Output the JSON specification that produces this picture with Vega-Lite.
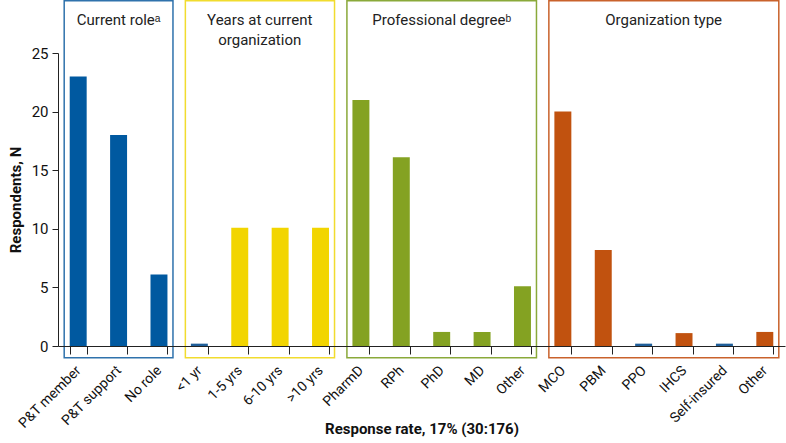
{
  "$schema": "https://vega.github.io/schema/vega-lite/v6.json",
  "width": 727,
  "height": 293,
  "autosize": {"type": "none"},
  "padding": {"left": 58, "top": 53, "right": 1, "bottom": 97},
  "background": "white",
  "config": {
    "view": {"stroke": null},
    "font": "Roboto, sans-serif",
    "axis": {"labelFont": "Roboto, sans-serif", "titleFont": "Roboto, sans-serif", "labelColor": "#111", "titleColor": "#111", "domainColor": "#222", "tickColor": "#222"}
  },
  "datasets": {
    "bars": [
      {"key": "P&T member", "n": 23, "fill": "role"},
      {"key": "P&T support", "n": 18, "fill": "role"},
      {"key": "No role", "n": 6.1, "fill": "role"},
      {"key": "<1 yr", "n": 0.2, "fill": "zero"},
      {"key": "1-5 yrs", "n": 10.1, "fill": "years"},
      {"key": "6-10 yrs", "n": 10.1, "fill": "years"},
      {"key": ">10 yrs", "n": 10.1, "fill": "years"},
      {"key": "PharmD", "n": 21, "fill": "degree"},
      {"key": "RPh", "n": 16.1, "fill": "degree"},
      {"key": "PhD", "n": 1.2, "fill": "degree"},
      {"key": "MD", "n": 1.2, "fill": "degree"},
      {"key": "Other (degree)", "n": 5.1, "fill": "degree"},
      {"key": "MCO", "n": 20, "fill": "org"},
      {"key": "PBM", "n": 8.2, "fill": "org"},
      {"key": "PPO", "n": 0.2, "fill": "zero"},
      {"key": "IHCS", "n": 1.1, "fill": "org"},
      {"key": "Self-insured", "n": 0.2, "fill": "zero"},
      {"key": "Other (org)", "n": 1.2, "fill": "org"}
    ],
    "groups": [
      {"group": "role", "first": "P&T member", "last": "No role", "title": "Current roleᵃ", "anchor": "P&T support", "even": false},
      {"group": "years", "first": "<1 yr", "last": ">10 yrs", "title": "Years at current\norganization", "anchor": "1-5 yrs", "even": true},
      {"group": "degree", "first": "PharmD", "last": "Other (degree)", "title": "Professional degreeᵇ", "anchor": "PhD", "even": false},
      {"group": "org", "first": "MCO", "last": "Other (org)", "title": "Organization type", "anchor": "PPO", "even": true}
    ]
  },
  "layer": [
    {
      "data": {"name": "groups"},
      "mark": {"type": "rect", "fill": null, "fillOpacity": 0, "strokeWidth": 1.5, "xOffset": -14, "x2Offset": 14},
      "encoding": {
        "x": {"field": "first", "type": "nominal", "bandPosition": 0.5, "sort": null,
          "scale": {"domain": ["P&T member","P&T support","No role","<1 yr","1-5 yrs","6-10 yrs",">10 yrs","PharmD","RPh","PhD","MD","Other (degree)","MCO","PBM","PPO","IHCS","Self-insured","Other (org)"], "paddingInner": 0.58, "paddingOuter": 0.29}},
        "x2": {"field": "last", "bandPosition": 0.5},
        "y": {"datum": -1, "type": "quantitative", "scale": {"domain": [0, 25], "nice": false}},
        "y2": {"datum": 29.45},
        "stroke": {"field": "group", "type": "nominal", "legend": null,
          "scale": {"domain": ["role","years","degree","org"], "range": ["#2F72AC","#F1DC2E","#8AA93A","#C9622C"]}}
      }
    },
    {
      "data": {"name": "bars"},
      "mark": {"type": "bar"},
      "encoding": {
        "x": {"field": "key", "type": "nominal", "sort": null,
          "scale": {"domain": ["P&T member","P&T support","No role","<1 yr","1-5 yrs","6-10 yrs",">10 yrs","PharmD","RPh","PhD","MD","Other (degree)","MCO","PBM","PPO","IHCS","Self-insured","Other (org)"], "paddingInner": 0.58, "paddingOuter": 0.29},
          "axis": {"title": "Response rate, 17% (30:176)", "labelAngle": -45, "labelAlign": "right", "labelBaseline": "middle", "labelExpr": "split(datum.label, ' (')[0]", "tickBand": "extent", "tickSize": 8, "labelFontSize": 14, "labelPadding": 14, "titleFontSize": 15, "titleFontWeight": "bold", "titleBaseline": "middle", "titleY": 82, "labelFontWeight": 400}},
        "y": {"field": "n", "type": "quantitative", "scale": {"domain": [0, 25], "nice": false},
          "axis": {"title": "Respondents, N", "values": [0,5,10,15,20,25], "grid": false, "tickSize": 6, "labelFontSize": 15, "labelPadding": 4, "titleFontSize": 15, "titleFontWeight": "bold", "titlePadding": 8}},
        "color": {"field": "fill", "type": "nominal", "legend": null,
          "scale": {"domain": ["role","years","degree","org","zero"], "range": ["#0059A0","#F2D500","#84A222","#C1520F","#1F5E99"]}}
      }
    },
    {
      "data": {"name": "groups"},
      "transform": [{"filter": "!datum.even"}],
      "mark": {"type": "text", "fontSize": 15, "baseline": "top", "lineBreak": "\n", "lineHeight": 20, "color": "#222", "align": "center"},
      "encoding": {
        "x": {"field": "anchor", "type": "nominal", "sort": null,
          "scale": {"domain": ["P&T member","P&T support","No role","<1 yr","1-5 yrs","6-10 yrs",">10 yrs","PharmD","RPh","PhD","MD","Other (degree)","MCO","PBM","PPO","IHCS","Self-insured","Other (org)"]}},
        "y": {"datum": 28.45, "type": "quantitative", "scale": {"domain": [0, 25], "nice": false}},
        "text": {"field": "title"}
      }
    },
    {
      "data": {"name": "groups"},
      "transform": [{"filter": "datum.even"}],
      "mark": {"type": "text", "fontSize": 15, "baseline": "top", "lineBreak": "\n", "lineHeight": 20, "color": "#222", "align": "center", "dx": 20},
      "encoding": {
        "x": {"field": "anchor", "type": "nominal", "sort": null,
          "scale": {"domain": ["P&T member","P&T support","No role","<1 yr","1-5 yrs","6-10 yrs",">10 yrs","PharmD","RPh","PhD","MD","Other (degree)","MCO","PBM","PPO","IHCS","Self-insured","Other (org)"]}},
        "y": {"datum": 28.45, "type": "quantitative", "scale": {"domain": [0, 25], "nice": false}},
        "text": {"field": "title"}
      }
    }
  ]
}
